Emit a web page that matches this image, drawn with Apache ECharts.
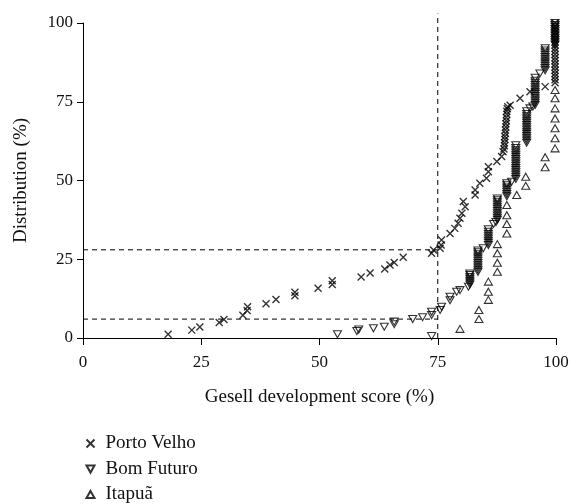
<!DOCTYPE html>
<html>
<head>
    <meta charset="utf-8" />
    <title>Gesell distribution</title>
    <script src="https://cdn.jsdelivr.net/npm/echarts@6.0.0/dist/echarts.min.js"></script>
    <style>
        html, body { margin: 0; padding: 0; background: #fff; }
        #main { width: 572px; height: 504px; }
    </style>
</head>
<body>
    <div id="main"></div>
    <script type="text/javascript">
        // Porto Velho (x marks)
        var pvX = [18, 23, 24.7, 28.8, 29.8, 33.8, 34.7, 34.8, 38.7, 40.8,
            44.8, 44.8, 49.7, 52.7, 52.7, 58.8, 60.7, 63.8, 64.9, 65.8,
            67.7, 73.7, 74.1, 75.5, 75.7, 75.8, 77.6, 78.6, 79.3, 79.7,
            80.1, 80.4, 80.8, 82.9, 82.9, 83.9, 85.3, 85.7, 85.7, 87.5,
            88.5, 88.8,
            89.0, 89.1, 89.1, 89.2, 89.2, 89.3, 89.3, 89.4, 89.4, 89.5, 89.5, 89.6, 89.6, 89.7, 89.8,
            90.3, 92.4, 94.5, 97.7,
            99.8, 99.8, 99.8, 99.8, 99.8, 99.8, 99.8, 99.8, 99.8, 99.8,
            99.8, 99.8, 99.8, 99.8, 99.8, 99.8, 99.8, 99.8, 99.8, 99.8];
        var pvY = [1.2, 2.5, 3.5, 4.9, 5.9, 7.2, 8.7, 9.9, 10.9, 12.2,
            13.4, 14.5, 15.8, 17.0, 18.2, 19.4, 20.6, 21.9, 23.2, 24.0,
            25.6, 26.9, 27.9, 28.5, 29.5, 31.1, 33.2, 34.8, 36.4, 38.0,
            39.6, 43.3, 41.7, 45.4, 47.0, 49.1, 50.7, 52.8, 54.4, 56.0,
            57.6, 59.1,
            60, 61, 62, 63, 64, 65, 66, 67, 68, 69, 70, 71, 72, 72.8, 73.4,
            73.9, 76.1, 78.2, 79.8,
            81, 82, 83, 84, 85, 86, 87, 88, 89, 90,
            91, 92, 93, 94, 95, 96, 97, 98, 99, 100];

        // Bom Futuro (down triangles)
        var bfX = [53.8, 57.9, 58.3, 61.4, 63.7, 65.8, 65.8, 69.7, 71.8, 73.7,
            73.7, 73.7, 75.5, 75.8, 77.6, 77.6, 79.0, 79.7, 81.5,
            81.8, 81.8, 81.8, 81.8, 81.8, 81.8, 81.8,
            83.5, 83.5, 83.5, 83.5, 83.5, 83.5, 83.5, 83.5, 83.5, 83.5, 83.5,
            84.6,
            85.7, 85.7, 85.7, 85.7, 85.7, 85.7, 85.7, 85.7,
            86.8, 87.3,
            87.6, 87.6, 87.6, 87.6, 87.6, 87.6, 87.6, 87.6, 87.6, 87.6, 87.6,
            89.6, 89.6, 89.6, 89.6, 89.6, 89.6, 89.6,
            90.6,
            91.5, 91.5, 91.5, 91.5, 91.5, 91.5, 91.5, 91.5, 91.5, 91.5, 91.5, 91.5, 91.5, 91.5, 91.5, 91.5,
            93.8, 93.8, 93.8, 93.8, 93.8, 93.8, 93.8, 93.8, 93.8, 93.8, 93.8, 93.8, 93.8, 93.8, 93.8,
            94.5, 95.1,
            95.6, 95.6, 95.6, 95.6, 95.6, 95.6, 95.6, 95.6, 95.6, 95.6, 95.6, 95.6, 95.6,
            96.6,
            97.7, 97.7, 97.7, 97.7, 97.7, 97.7, 97.7, 97.7, 97.7, 97.7, 97.7,
            99.8, 99.8, 99.8, 99.8, 99.8, 99.8, 99.8, 99.8, 99.8, 99.8, 99.8];
        var bfY = [1.2, 2.2, 2.7, 3.1, 3.6, 4.4, 5.2, 6.0, 6.6, 7.3,
            8.3, 0.6, 8.9, 9.9, 12.0, 13.1, 14.7, 15.2, 16.3,
            17.0, 17.6, 18.2, 18.8, 19.4, 20.0, 20.5,
            21, 21.7, 22.4, 23.1, 23.8, 24.5, 25.2, 25.9, 26.6, 27.2, 27.8,
            28.5,
            29.5, 30.2, 30.9, 31.6, 32.3, 33.0, 33.7, 34.5,
            36.2, 36.8,
            37.5, 38.2, 38.9, 39.6, 40.3, 41.0, 41.7, 42.4, 43.1, 43.7, 44.3,
            45, 45.7, 46.4, 47.1, 47.8, 48.5, 49.1,
            49.6,
            50.5, 51.2, 51.9, 52.6, 53.3, 54.0, 54.7, 55.4, 56.1, 56.8, 57.5, 58.2, 58.9, 59.6, 60.3, 61.2,
            62, 62.7, 63.4, 64.1, 64.8, 65.5, 66.2, 66.9, 67.6, 68.3, 69.0, 69.7, 70.4, 71.1, 72,
            72.9, 73.5,
            74, 74.7, 75.4, 76.1, 76.8, 77.5, 78.2, 78.9, 79.6, 80.3, 81.0, 81.7, 82.6,
            84,
            85, 85.7, 86.4, 87.1, 87.8, 88.5, 89.2, 89.9, 90.6, 91.3, 92,
            93.2, 93.9, 94.6, 95.3, 96.0, 96.7, 97.4, 98.1, 98.8, 99.4, 100];

        // Itapuã (up triangles)
        var itX = [79.7, 83.7, 83.7, 85.7, 85.7, 85.7, 87.6, 87.6, 87.6, 87.6,
            89.6, 89.6, 89.6, 89.6, 91.7, 93.6, 93.6, 97.7, 97.7,
            99.8, 99.8, 99.8, 99.8, 99.8, 99.8, 99.8];
        var itY = [2.9, 6.0, 8.9, 12.1, 14.7, 17.9, 21.0, 23.9, 26.9, 29.8,
            33.2, 36.2, 39.0, 42.2, 45.4, 48.3, 51.2, 54.2, 57.4,
            60.2, 63.4, 66.6, 69.7, 72.9, 76.1, 78.7];

        // dashed reference lines: [x1, y1, x2, y2]
        var refLines = [[0, 28, 75, 28], [0, 6, 75, 6], [75, 0, 75, 103]];

        var xTicks = [0, 25, 50, 75, 100];
        var yTicks = [0, 25, 50, 75, 100];

        function zip(xs, ys) {
            var out = [];
            for (var i = 0; i < xs.length; i++) {
                out.push([xs[i], ys[i]]);
            }
            return out;
        }

        var font = 'Liberation Serif';
        var markStyle = { color: 'none', borderColor: '#000', borderWidth: 1.1 };

        var series = [{
            name: 'Porto Velho',
            type: 'scatter',
            symbol: 'path://M0,0L10,10M10,0L0,10',
            symbolSize: 7,
            itemStyle: { color: 'none', borderColor: '#000', borderWidth: 1.4 },
            data: zip(pvX, pvY)
        }, {
            name: 'Bom Futuro',
            type: 'scatter',
            symbol: 'triangle',
            symbolRotate: 180,
            symbolSize: [8, 7],
            itemStyle: markStyle,
            data: zip(bfX, bfY)
        }, {
            name: 'Itapuã',
            type: 'scatter',
            symbol: 'triangle',
            symbolSize: [8, 7],
            itemStyle: markStyle,
            data: zip(itX, itY)
        }];

        refLines.forEach(function (l) {
            series.push({
                type: 'line',
                silent: true,
                clip: false,
                showSymbol: false,
                symbol: 'none',
                lineStyle: { color: '#000', width: 1, type: [5, 4] },
                data: [[l[0], l[1]], [l[2], l[3]]],
                z: 1
            });
        });

        var myChart = echarts.init(document.getElementById('main'));
        var option = {
            animation: false,
            backgroundColor: '#fff',
            grid: { left: 83, right: 16, top: 23, bottom: 166 },
            legend: {
                data: [
                    { name: 'Porto Velho' },
                    { name: 'Bom Futuro', icon: 'path://M0,0L10,0L5,9Z' },
                    { name: 'Itapuã', icon: 'path://M5,0L10,9L0,9Z' }
                ],
                orient: 'vertical',
                left: 84,
                top: 434,
                height: 80,
                padding: 0,
                itemWidth: 8,
                itemHeight: 8,
                itemGap: 6.5,
                textStyle: { fontFamily: font, fontSize: 19, color: '#111', padding: [0, 0, 0, 6] }
            },
            xAxis: {
                type: 'value',
                min: 0,
                max: 100,
                interval: 25,
                name: 'Gesell development score (%)',
                nameLocation: 'middle',
                nameGap: 50,
                nameTextStyle: { fontFamily: font, fontSize: 19, color: '#111' },
                axisLine: { lineStyle: { color: '#000', width: 1 } },
                axisTick: { length: 7, lineStyle: { color: '#000' }, customValues: xTicks },
                axisLabel: { fontFamily: font, fontSize: 17, color: '#111', margin: 16, customValues: xTicks },
                splitLine: { show: false }
            },
            yAxis: {
                type: 'value',
                min: 0,
                max: 100,
                interval: 25,
                name: 'Distribution (%)',
                nameLocation: 'middle',
                nameGap: 52,
                nameTextStyle: { fontFamily: font, fontSize: 19, color: '#111' },
                axisLine: { show: true, lineStyle: { color: '#000', width: 1 } },
                axisTick: { show: true, length: 6, lineStyle: { color: '#000' }, customValues: yTicks },
                axisLabel: { fontFamily: font, fontSize: 17, color: '#111', margin: 10, customValues: yTicks },
                splitLine: { show: false }
            },
            series: series
        };
        myChart.setOption(option);
    </script>
</body>
</html>
